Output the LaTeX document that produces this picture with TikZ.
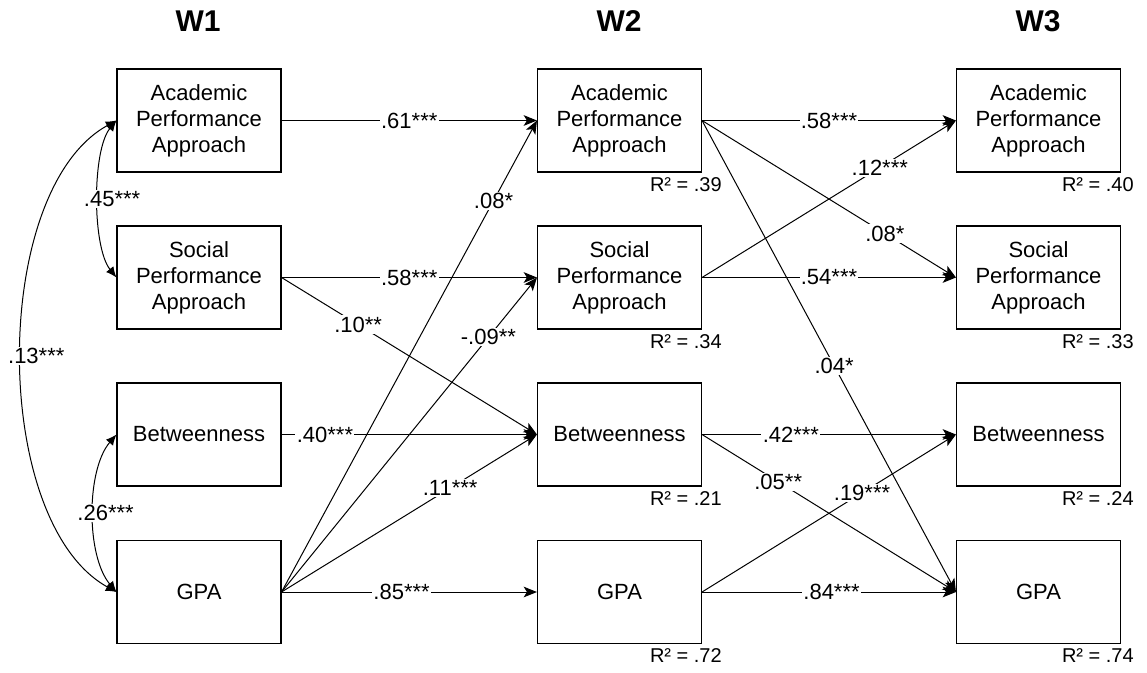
\documentclass[tikz,border=0pt]{standalone}
\usepackage{fontspec}
\setmainfont{Liberation Sans}
\usetikzlibrary{arrows.meta}

\begin{document}
\begin{tikzpicture}[x=0.75pt,y=0.75pt,yscale=-1,xscale=1,
  varbox/.style={draw, line width=0.8pt, minimum width=123pt, minimum height=77.25pt, inner sep=0pt, align=center, font=\fontsize{16.5}{19.5}\selectfont},
  coef/.style={fill=white, inner sep=1pt, font=\fontsize{16.5}{19.5}\selectfont},
  rsq/.style={inner sep=0pt, anchor=base east, font=\fontsize{15}{18}\selectfont},
  wave/.style={inner sep=0pt, font=\fontsize{22.5}{27}\selectfont\bfseries},
  reg/.style={line width=0.75pt, -{Stealth[length=10pt,width=8pt,inset=2.5pt]}},
  cov/.style={line width=0.75pt, {Latex[length=8pt,width=7pt]}-{Latex[length=8pt,width=7pt]}}
]
\useasboundingbox (0,0) rectangle (1147,672);

% Text Node
\node[wave] (tw1) at (198,21) {W1};
\node[wave] (tw2) at (619,21) {W2};
\node[wave] (tw3) at (1038,21) {W3};

%Shape: Rectangle
\node[varbox] (w1acad) at (199,120.5) {Academic\\Performance\\Approach};
\node[varbox] (w1soc) at (199,277.5) {Social\\Performance\\Approach};
\node[varbox] (w1betw) at (199,434.5) {Betweenness};
\node[varbox] (w1gpa) at (199,592) {GPA};

\node[varbox] (w2acad) at (619.5,120.5) {Academic\\Performance\\Approach};
\node[varbox] (w2soc) at (619.5,277.5) {Social\\Performance\\Approach};
\node[varbox] (w2betw) at (619.5,434.5) {Betweenness};
\node[varbox] (w2gpa) at (619.5,592) {GPA};

\node[varbox] (w3acad) at (1038.5,120.5) {Academic\\Performance\\Approach};
\node[varbox] (w3soc) at (1038.5,277.5) {Social\\Performance\\Approach};
\node[varbox] (w3betw) at (1038.5,434.5) {Betweenness};
\node[varbox] (w3gpa) at (1038.5,592) {GPA};

% Text Node
\node[rsq] (r2w2acad) at (722,191) {R² = .39};
\node[rsq] (r2w2soc) at (722,348) {R² = .34};
\node[rsq] (r2w2betw) at (722,505) {R² = .21};
\node[rsq] (r2w2gpa) at (722,662) {R² = .72};
\node[rsq] (r2w3acad) at (1134,191) {R² = .40};
\node[rsq] (r2w3soc) at (1134,348) {R² = .33};
\node[rsq] (r2w3betw) at (1134,505) {R² = .24};
\node[rsq] (r2w3gpa) at (1134,662) {R² = .74};

%Curve Lines
\draw[cov] (w1acad.west) .. controls (92,150) and (92,247) .. (w1soc.west) node[coef, pos=0.5, xshift=10.5pt] (c45) {.45***};
\draw[cov] (w1betw.west) .. controls (86,470) and (86,556) .. (w1gpa.west) node[coef, pos=0.5, xshift=9pt] (c26) {.26***};
\draw[cov] (w1acad.west) .. controls (-10,190) and (-10,522) .. (w1gpa.west) node[coef, pos=0.5, xshift=11pt] (c13) {.13***};

%Straight Lines
\draw[reg] (w1acad.east) -- node[coef, pos=0.5] (p61) {.61***} (w2acad.west);
\draw[reg] (w1soc.east) -- node[coef, pos=0.5] (p58) {.58***} (w2soc.west);
\draw[reg] (w1soc.east) -- node[coef, pos=0.3] (p10) {.10**} (w2betw.west);
\draw[reg] (w1betw.east) -- node[coef, pos=0.17] (p40) {.40***} (w2betw.west);
\draw[reg] (w1gpa.east) -- node[coef, pos=0.83] (p08a) {.08*} (w2acad.west);
\draw[reg] (w1gpa.east) -- node[coef, pos=0.81] (p09) {-.09**} (w2soc.west);
\draw[reg] (w1gpa.east) -- node[coef, pos=0.66] (p11) {.11***} (w2betw.west);
\draw[reg] (w1gpa.east) -- node[coef, pos=0.47] (p85) {.85***} (w2gpa.west);

\draw[reg] (w2acad.east) -- node[coef, pos=0.5] (p58b) {.58***} (w3acad.west);
\draw[reg] (w2acad.east) -- node[coef, pos=0.72] (p08b) {.08*} (w3soc.west);
\draw[reg] (w2acad.east) -- node[coef, pos=0.52] (p04) {.04*} (w3gpa.west);
\draw[reg] (w2soc.east) -- node[coef, pos=0.7] (p12) {.12***} (w3acad.west);
\draw[reg] (w2soc.east) -- node[coef, pos=0.5] (p54) {.54***} (w3soc.west);
\draw[reg] (w2betw.east) -- node[coef, pos=0.35] (p42) {.42***} (w3betw.west);
\draw[reg] (w2betw.east) -- node[coef, pos=0.3] (p05) {.05**} (w3gpa.west);
\draw[reg] (w2gpa.east) -- node[coef, pos=0.63] (p19) {.19***} (w3betw.west);
\draw[reg] (w2gpa.east) -- node[coef, pos=0.51] (p84) {.84***} (w3gpa.west);

\end{tikzpicture}
\end{document}
